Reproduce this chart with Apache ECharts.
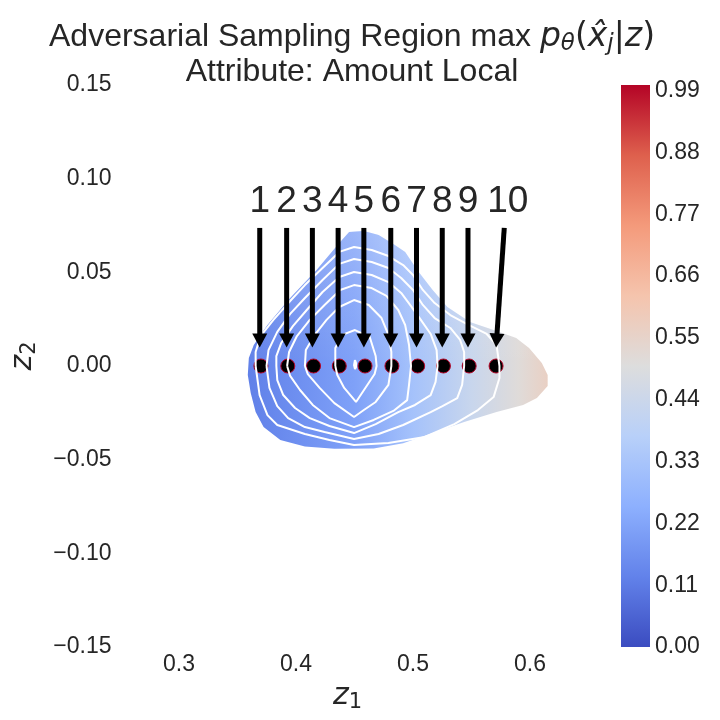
<!DOCTYPE html>
<html>
<head>
<meta charset="utf-8">
<script src="https://cdn.jsdelivr.net/npm/echarts@6/dist/echarts.min.js"></script>
<style>
  html, body { margin: 0; padding: 0; background: #fff; }
  #chart { width: 720px; height: 720px; }
</style>
</head>
<body>
<div id="chart"></div>
<script>
// tick labels
const xTicks = [0.3, 0.4, 0.5, 0.6];
const yTicks = [-0.15, -0.10, -0.05, 0.00, 0.05, 0.10, 0.15];
const cbTicks = [0.00, 0.11, 0.22, 0.33, 0.44, 0.55, 0.66, 0.77, 0.88, 0.99];

// adversarial samples along z1 (z2 = 0)
const sampleLabels = ['1', '2', '3', '4', '5', '6', '7', '8', '9', '10'];
const sampleX = [0.370, 0.393, 0.415, 0.437, 0.459, 0.482, 0.504, 0.526, 0.548, 0.571];
const sampleY = [0, 0, 0, 0, 0, 0, 0, 0, 0, 0];

// annotation arrows (from text to point)
const arrowFromX = [0.369, 0.392, 0.414, 0.436, 0.458, 0.481, 0.503, 0.525, 0.547, 0.578];
const arrowFromY = [0.0737, 0.0737, 0.0737, 0.0737, 0.0737, 0.0737, 0.0737, 0.0737, 0.0737, 0.0737];
const arrowToX = [0.369, 0.392, 0.414, 0.436, 0.458, 0.481, 0.503, 0.525, 0.547, 0.571];
const arrowToY = [0.0099, 0.0099, 0.0099, 0.0099, 0.0099, 0.0099, 0.0099, 0.0099, 0.0099, 0.0099];
const labelX = [0.369, 0.392, 0.414, 0.436, 0.458, 0.481, 0.503, 0.525, 0.547, 0.581];
const labelY = [0.0876, 0.0876, 0.0876, 0.0876, 0.0876, 0.0876, 0.0876, 0.0876, 0.0876, 0.0876];

// outline of the sampled region
const regionOutline = [
  [0.4454, 0.0715], [0.4580, 0.0721], [0.4706, 0.0699], [0.4832, 0.0651], [0.4933, 0.0609],
  [0.5042, 0.0507], [0.5168, 0.0406], [0.5294, 0.0315], [0.5487, 0.0235], [0.5714, 0.0187],
  [0.5882, 0.0149], [0.5992, 0.0096], [0.6101, 0.0016], [0.6151, -0.0048], [0.6151, -0.0107],
  [0.6059, -0.0171], [0.5941, -0.0208], [0.5714, -0.0246], [0.5437, -0.0299], [0.5168, -0.0358],
  [0.4916, -0.0412], [0.4664, -0.0440], [0.4328, -0.0442], [0.4076, -0.0430], [0.3866, -0.0395],
  [0.3723, -0.0326], [0.3655, -0.0246], [0.3613, -0.0144], [0.3588, -0.0048], [0.3597, 0.0043],
  [0.3639, 0.0112], [0.3756, 0.0219], [0.3950, 0.0363], [0.4176, 0.0513], [0.4370, 0.0657]
];

// probability p_theta along z1, used for the region fill
const probAlongZ1 = [
  [0.358, 0.12], [0.400, 0.16], [0.450, 0.21], [0.500, 0.32],
  [0.550, 0.43], [0.590, 0.51], [0.617, 0.57]
];

// density contour levels (outer to inner)
const contourLevel1 = [
  [0.3655, 0], [0.3655, 0.0075], [0.3697, 0.0160], [0.3807, 0.0246], [0.3950, 0.0347],
  [0.4076, 0.0432], [0.4227, 0.0523], [0.4370, 0.0609], [0.4496, 0.0635], [0.4647, 0.0619],
  [0.4790, 0.0587], [0.4916, 0.0539], [0.5000, 0.0486], [0.5084, 0.0406], [0.5185, 0.0336],
  [0.5319, 0.0272], [0.5462, 0.0224], [0.5630, 0.0171], [0.5714, 0.0112], [0.5739, 0],
  [0.5739, -0.0064], [0.5689, -0.0166], [0.5555, -0.0235], [0.5353, -0.0310], [0.5101, -0.0379],
  [0.4790, -0.0411], [0.4496, -0.0422], [0.4286, -0.0395], [0.4076, -0.0363], [0.3840, -0.0315],
  [0.3756, -0.0262], [0.3689, -0.0155]
];
const contourLevel2 = [
  [0.3748, 0], [0.3765, 0.0085], [0.3840, 0.0182], [0.3950, 0.0278], [0.4076, 0.0363],
  [0.4227, 0.0459], [0.4370, 0.0545], [0.4496, 0.0571], [0.4647, 0.0555], [0.4790, 0.0523],
  [0.4899, 0.0470], [0.5000, 0.0406], [0.5084, 0.0326], [0.5185, 0.0256], [0.5319, 0.0203],
  [0.5403, 0.0139], [0.5437, 0.0075], [0.5437, 0], [0.5420, -0.0101], [0.5378, -0.0171],
  [0.5252, -0.0214], [0.5151, -0.0246], [0.4916, -0.0315], [0.4706, -0.0363], [0.4496, -0.0390],
  [0.4244, -0.0352], [0.4076, -0.0326], [0.3933, -0.0278], [0.3840, -0.0214], [0.3773, -0.0117]
];
const contourLevel3 = [
  [0.3832, 0], [0.3832, 0.0053], [0.3874, 0.0123], [0.3975, 0.0214], [0.4092, 0.0299],
  [0.4227, 0.0395], [0.4370, 0.0475], [0.4496, 0.0502], [0.4647, 0.0486], [0.4790, 0.0448],
  [0.4899, 0.0390], [0.4983, 0.0320], [0.5067, 0.0246], [0.5151, 0.0171], [0.5202, 0.0085],
  [0.5210, 0], [0.5193, -0.0085], [0.5151, -0.0155], [0.5017, -0.0208], [0.4874, -0.0246],
  [0.4681, -0.0310], [0.4496, -0.0358], [0.4286, -0.0320], [0.4118, -0.0278], [0.3992, -0.0224],
  [0.3891, -0.0155], [0.3840, -0.0075]
];
const contourLevel4 = [
  [0.3924, 0], [0.3941, 0.0075], [0.4008, 0.0160], [0.4118, 0.0246], [0.4244, 0.0326],
  [0.4378, 0.0406], [0.4496, 0.0432], [0.4647, 0.0416], [0.4773, 0.0374], [0.4874, 0.0299],
  [0.4933, 0.0219], [0.4966, 0.0112], [0.4983, 0], [0.4966, -0.0101], [0.4950, -0.0182],
  [0.4832, -0.0240], [0.4664, -0.0288], [0.4496, -0.0326], [0.4286, -0.0278], [0.4143, -0.0208],
  [0.4034, -0.0128], [0.3950, -0.0053]
];
const contourLevel5 = [
  [0.4076, 0], [0.4084, 0.0085], [0.4160, 0.0166], [0.4261, 0.0246], [0.4370, 0.0315],
  [0.4496, 0.0352], [0.4622, 0.0326], [0.4731, 0.0256], [0.4790, 0.0166], [0.4815, 0.0075],
  [0.4815, 0], [0.4790, -0.0101], [0.4681, -0.0192], [0.4580, -0.0235], [0.4496, -0.0272],
  [0.4328, -0.0198], [0.4202, -0.0117], [0.4101, -0.0043]
];
const contourLevel6 = [
  [0.4336, 0], [0.4336, 0.0096], [0.4395, 0.0166], [0.4504, 0.0192], [0.4630, 0.0155],
  [0.4681, 0.0053], [0.4689, 0], [0.4672, -0.0043], [0.4513, -0.0192], [0.4412, -0.0117],
  [0.4353, -0.0048]
];
const contourLevel7 = [
  [0.4504, 0.0032], [0.4513, 0.0016], [0.4513, -0.0005], [0.4504, -0.0016], [0.4496, 0.0005]
];
const contourLevels = [contourLevel1, contourLevel2, contourLevel3, contourLevel4,
  contourLevel5, contourLevel6, contourLevel7];

// coolwarm colour map
const COOLWARM = [
  [0.000, [59, 76, 192]], [0.125, [98, 130, 234]], [0.250, [141, 176, 254]],
  [0.375, [184, 208, 249]], [0.500, [221, 221, 221]], [0.625, [245, 196, 173]],
  [0.750, [244, 154, 123]], [0.875, [222, 96, 77]], [1.000, [180, 4, 38]]
];
function coolwarm(t) {
  t = Math.max(0, Math.min(1, t));
  for (let i = 1; i < COOLWARM.length; i++) {
    const [t1, c1] = COOLWARM[i];
    const [t0, c0] = COOLWARM[i - 1];
    if (t <= t1) {
      const f = (t - t0) / (t1 - t0);
      const c = c0.map((v, k) => Math.round(v + (c1[k] - v) * f));
      return `rgb(${c[0]},${c[1]},${c[2]})`;
    }
  }
  return 'rgb(180,4,38)';
}

const TEXT = '#262626';
const SANS = '"Liberation Sans", Arial, sans-serif';
const MATH = '"DejaVu Sans", sans-serif';
const near = (a, b) => Math.abs(a - b) < 1e-6;

const chart = echarts.init(document.getElementById('chart'), null, { renderer: 'canvas' });

const mathRich = {
  i: { fontFamily: MATH, fontStyle: 'italic', fontSize: 33, color: TEXT },
  u: { fontFamily: MATH, fontSize: 33, color: TEXT },
  s: { fontFamily: MATH, fontStyle: 'italic', fontSize: 23, color: TEXT, padding: [14, 0, 0, 0] }
};
const nameRich = {
  i: { fontFamily: MATH, fontStyle: 'italic', fontSize: 30, color: TEXT },
  s: { fontFamily: MATH, fontSize: 21, color: TEXT, padding: [14, 0, 0, 0] }
};

const contourSeries = contourLevels.map((lvl, k) => ({
  type: 'line',
  name: 'density' + (k + 1),
  data: lvl.concat([lvl[0]]),
  showSymbol: false,
  symbol: 'none',
  lineStyle: { color: '#ffffff', width: 2 },
  silent: true,
  z: 3
}));

function regionShape(api) {
  return regionOutline.map(p => api.coord(p));
}

chart.setOption({
  animation: false,
  backgroundColor: '#ffffff',
  title: [
    {
      text: 'Adversarial Sampling Region max {i|p}{s|θ}{u|(}{i|x̂}{s|j}{u||}{i|z}{u|)}',
      left: 352, top: 19, textAlign: 'center', padding: 0,
      textStyle: { fontFamily: SANS, fontSize: 32, fontWeight: 'normal', color: TEXT, rich: mathRich }
    },
    {
      text: 'Attribute: Amount Local',
      left: 352, top: 56, textAlign: 'center', padding: 0,
      textStyle: { fontFamily: SANS, fontSize: 32, fontWeight: 'normal', color: TEXT }
    }
  ],
  grid: [
    { left: 112.5, top: 85, width: 476, height: 562 },
    { left: 621, top: 85, width: 29, height: 562 }
  ],
  xAxis: [
    {
      type: 'value', gridIndex: 0, min: 0.25, max: 0.65, interval: 0.05,
      name: '{i|z}{s|1}', nameLocation: 'middle', nameGap: 28,
      nameTextStyle: { rich: nameRich, padding: [0, 14, 0, 0] },
      axisLine: { show: false }, axisTick: { show: false }, splitLine: { show: false },
      axisLabel: {
        margin: 6, fontSize: 23, fontFamily: SANS, color: TEXT,
        formatter: v => (xTicks.some(t => near(t, v)) ? v.toFixed(1) : '')
      }
    },
    { type: 'category', gridIndex: 1, data: ['cb'], show: false }
  ],
  yAxis: [
    {
      type: 'value', gridIndex: 0, min: -0.15, max: 0.15, interval: 0.05,
      name: '{i|z}{s|2}', nameLocation: 'middle', nameGap: 80, nameRotate: 90,
      nameTextStyle: { rich: nameRich, padding: [0, 0, 0, 20] },
      axisLine: { show: false }, axisTick: { show: false }, splitLine: { show: false },
      axisLabel: {
        margin: 9, fontSize: 23, fontFamily: SANS, color: TEXT,
        formatter: v => {
          const t = yTicks.find(y => near(y, v));
          if (t === undefined) return '';
          return near(t, 0) ? '0.00' : t.toFixed(2).replace('-', '\u2212');
        }
      }
    },
    {
      type: 'value', gridIndex: 1, min: 0, max: 1, interval: 0.11, position: 'right',
      axisLine: { show: false }, axisTick: { show: false }, splitLine: { show: false },
      axisLabel: {
        margin: 5, fontSize: 23, fontFamily: SANS, color: TEXT, showMaxLabel: false,
        formatter: v => {
          const t = cbTicks.find(c => near(c, v));
          return t === undefined ? '' : t.toFixed(2);
        }
      }
    }
  ],
  series: [
    {
      // filled region coloured by p_theta
      type: 'custom',
      xAxisIndex: 0, yAxisIndex: 0,
      data: [0],
      silent: true,
      z: 1,
      renderItem(params, api) {
        const pts = regionShape(api);
        const x0d = probAlongZ1[0][0];
        const x1d = probAlongZ1[probAlongZ1.length - 1][0];
        const x0 = api.coord([x0d, 0])[0];
        const x1 = api.coord([x1d, 0])[0];
        const yTop = api.coord([0, 0.072])[1];
        const yMid = api.coord([0, 0.0])[1];
        const stops = probAlongZ1.map(([x, p]) => ({ offset: (x - x0d) / (x1d - x0d), color: coolwarm(p) }));
        return {
          type: 'group',
          children: [
            {
              type: 'polygon',
              shape: { points: pts },
              style: { fill: new echarts.graphic.LinearGradient(x0, 0, x1, 0, stops, true), stroke: null }
            },
            {
              // lighter tone toward the top of the region
              type: 'polygon',
              shape: { points: pts },
              style: {
                fill: new echarts.graphic.LinearGradient(0, yTop, 0, yMid, [
                  { offset: 0, color: 'rgba(255,255,255,0.22)' },
                  { offset: 1, color: 'rgba(255,255,255,0)' }
                ], true),
                stroke: null
              }
            }
          ]
        };
      }
    },
    {
      type: 'scatter',
      xAxisIndex: 0, yAxisIndex: 0,
      data: sampleX.map((x, i) => [x, sampleY[i]]),
      symbolSize: 14,
      itemStyle: { color: '#000000', borderColor: '#b40426', borderWidth: 1, opacity: 1 },
      silent: true,
      z: 2
    },
    ...contourSeries,
    {
      // annotation arrows with sample numbers
      type: 'custom',
      xAxisIndex: 0, yAxisIndex: 0,
      data: sampleLabels.map((s, i) => [arrowFromX[i], arrowFromY[i], arrowToX[i], arrowToY[i], labelX[i], labelY[i]]),
      silent: true,
      z: 4,
      renderItem(params, api) {
        const s = api.coord([api.value(0), api.value(1)]);
        const e = api.coord([api.value(2), api.value(3)]);
        const l = api.coord([api.value(4), api.value(5)]);
        const dx = e[0] - s[0], dy = e[1] - s[1];
        const len = Math.hypot(dx, dy);
        const ux = dx / len, uy = dy / len;
        const headLen = 14, headW = 7.5;
        const bx = e[0] - ux * headLen, by = e[1] - uy * headLen;
        return {
          type: 'group',
          children: [
            { type: 'line', shape: { x1: s[0], y1: s[1], x2: bx + ux, y2: by + uy }, style: { stroke: '#000', lineWidth: 5 } },
            {
              type: 'polygon',
              shape: { points: [[e[0], e[1]], [bx - uy * headW, by + ux * headW], [bx + uy * headW, by - ux * headW]] },
              style: { fill: '#000' }
            },
            {
              type: 'text',
              style: {
                text: sampleLabels[params.dataIndex], x: l[0], y: l[1],
                fill: TEXT, fontSize: 37, fontFamily: SANS, align: 'center', verticalAlign: 'middle'
              }
            }
          ]
        };
      }
    },
    {
      // colour bar
      type: 'bar',
      xAxisIndex: 1, yAxisIndex: 1,
      data: [1],
      barWidth: '100%',
      silent: true,
      itemStyle: {
        color: new echarts.graphic.LinearGradient(0, 0, 0, 1,
          COOLWARM.map(([t]) => ({ offset: 1 - t, color: coolwarm(t) })).reverse())
      }
    }
  ]
});
</script>
</body>
</html>
